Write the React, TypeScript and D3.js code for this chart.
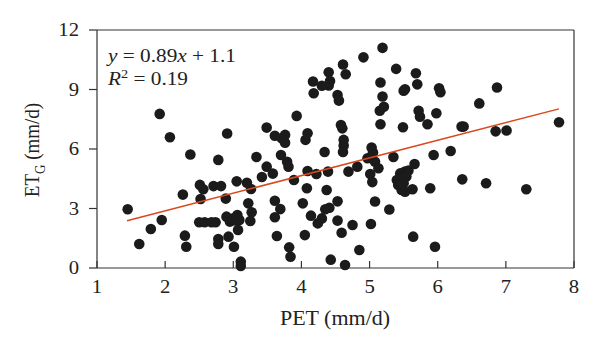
import React from "react";
import * as d3 from "d3";

const petValues: number[] = [
  1.45, 1.62, 1.79, 1.95, 1.92, 2.07, 2.26, 2.29, 2.31, 2.37,
  2.51, 2.56, 2.52, 2.50, 2.58, 2.68, 2.74, 2.71, 2.82, 2.78,
  2.78, 2.78, 2.89, 2.90, 2.95, 2.91, 2.93, 3.01, 3.05, 3.06,
  3.09, 3.07, 3.11, 3.11, 3.20, 3.26, 3.22, 3.27, 3.25, 3.34,
  3.42, 3.49, 3.49, 3.58, 3.61, 3.69, 3.61, 3.64, 3.61, 3.71,
  3.76, 3.76, 3.70, 3.79, 3.81, 3.82, 3.84, 3.89, 3.93, 4.02,
  4.05, 4.06, 4.09, 4.08, 4.09, 4.14, 4.17, 4.18, 4.22, 4.24,
  4.30, 4.30, 4.34, 4.35, 4.37, 4.39, 4.40, 4.42, 4.40, 4.41,
  4.43, 4.53, 4.55, 4.53, 4.53, 4.58, 4.60, 4.61, 4.65, 4.62,
  4.62, 4.61, 4.59, 4.64, 4.69, 4.75, 4.82, 4.85, 4.91, 4.97,
  5.03, 5.05, 5.01, 5.04, 5.02, 5.08, 5.08, 5.13, 5.16, 5.15,
  5.21, 5.19, 5.16, 5.19, 5.29, 5.35, 5.39, 5.45, 5.52, 5.57,
  5.40, 5.47, 5.54, 5.42, 5.47, 5.52, 5.50, 5.63, 5.49, 5.52,
  5.50, 5.66, 5.64, 5.68, 5.70, 5.72, 5.74, 5.85, 5.89, 5.94,
  5.96, 5.98, 6.02, 6.04, 6.19, 6.35, 6.38, 6.36, 6.61, 6.71,
  6.85, 6.87, 7.01, 7.30, 7.78, 3.00, 3.03
];

const etgValues: number[] = [
  2.96, 1.21, 1.97, 2.42, 7.77, 6.59, 3.70, 1.63, 1.07, 5.72,
  4.19, 3.97, 3.48, 2.31, 2.31, 2.31, 2.31, 4.13, 4.13, 5.45,
  1.46, 1.21, 3.50, 2.59, 2.34, 6.78, 1.58, 1.07, 4.37, 2.67,
  2.42, 1.92, 0.32, 0.10, 4.30, 3.98, 3.26, 2.81, 2.37, 5.60,
  4.59, 5.11, 7.08, 4.76, 3.39, 2.97, 2.56, 1.61, 6.67, 6.54,
  6.71, 6.32, 5.70, 5.36, 5.11, 1.04, 0.57, 4.44, 7.67, 3.26,
  1.66, 6.46, 6.79, 4.02, 4.89, 2.64, 9.40, 8.81, 4.74, 2.25,
  9.19, 2.50, 5.85, 2.96, 3.93, 4.86, 9.87, 9.43, 9.20, 3.04,
  0.42, 8.72, 8.44, 3.36, 2.39, 7.21, 7.04, 10.26, 9.77, 6.46,
  6.18, 5.85, 1.78, 0.15, 4.86, 2.17, 5.11, 0.91, 10.62, 5.53,
  6.07, 5.82, 4.74, 4.33, 2.22, 3.35, 5.36, 5.03, 7.25, 7.93,
  8.13, 8.65, 9.35, 11.10, 2.95, 5.60, 10.04, 4.77, 4.86, 4.91,
  4.44, 4.53, 4.61, 4.19, 3.93, 3.85, 4.27, 3.97, 7.10, 9.01,
  8.94, 5.24, 1.58, 9.82, 9.26, 7.93, 7.63, 7.25, 4.02, 5.70,
  1.07, 7.80, 9.06, 8.86, 5.90, 7.13, 7.13, 4.47, 8.30, 4.27,
  6.89, 9.10, 6.93, 3.97, 7.35, 2.50, 2.40
];

const xTicks: number[] = [1, 2, 3, 4, 5, 6, 7, 8];
const yTicks: number[] = [0, 3, 6, 9, 12];
const slope = 0.89;
const intercept = 1.1;
const fitRange: number[] = [1.44, 7.78];

export default function App() {
  const left = 97, right = 574, top = 30, bottom = 268;
  const x = d3.scaleLinear().domain([1, 8]).range([left, right]);
  const y = d3.scaleLinear().domain([0, 12]).range([bottom, top]);
  const points = petValues.map((v, i) => ({ px: v, py: etgValues[i] }));
  const line = d3
    .line<number>()
    .x((d) => x(d))
    .y((d) => y(slope * d + intercept));
  const font = "'Liberation Serif', 'DejaVu Serif', serif";
  const axisColor = "#333";
  const textColor = "#222";
  const sx = 1.15;
  return (
    <svg
      width={600}
      height={351}
      style={{ position: "absolute", left: 0, top: 0, background: "#fff" }}
      fontFamily={font}
    >
      <rect x={0} y={0} width={600} height={351} fill="#fff" />
      <line x1={left} y1={top} x2={right} y2={top} stroke={axisColor} strokeWidth={1.2} />
      <line x1={right} y1={top} x2={right} y2={bottom} stroke={axisColor} strokeWidth={1.2} />
      <line x1={left} y1={top} x2={left} y2={bottom} stroke={axisColor} strokeWidth={1.2} />
      <line x1={left} y1={bottom} x2={right} y2={bottom} stroke={axisColor} strokeWidth={1.2} />
      {xTicks.map((t) => (
        <g key={"x" + t}>
          <line x1={x(t)} x2={x(t)} y1={bottom} y2={bottom - 7} stroke={axisColor} strokeWidth={1.2} />
          <text
            transform={`translate(${x(t)},293) scale(${sx},1)`}
            textAnchor="middle"
            fontSize={18}
            fill={textColor}
          >
            {t}
          </text>
        </g>
      ))}
      {yTicks.map((t) => (
        <g key={"y" + t}>
          <line x1={left - 8} x2={left} y1={y(t)} y2={y(t)} stroke={axisColor} strokeWidth={1.2} />
          <text
            transform={`translate(79,${y(t) + 6}) scale(${sx},1)`}
            textAnchor="end"
            fontSize={18}
            fill={textColor}
          >
            {t}
          </text>
        </g>
      ))}
      {points.map((p, i) => (
        <circle key={i} cx={x(p.px)} cy={y(p.py)} r={5.3} fill="#1b1b1b" />
      ))}
      <path d={line(fitRange) || ""} stroke="#d9481c" strokeWidth={1.5} fill="none" />
      <text transform={`translate(108,62) scale(${sx},1)`} fontSize={18.5} fill={textColor}>
        <tspan fontStyle="italic">y</tspan>
        <tspan> = 0.89</tspan>
        <tspan fontStyle="italic">x</tspan>
        <tspan> + 1.1</tspan>
      </text>
      <text transform={`translate(108,85) scale(${sx},1)`} fontSize={18.5} fill={textColor}>
        <tspan fontStyle="italic">R</tspan>
        <tspan dy={-7} fontSize={12.5}>2</tspan>
        <tspan dy={7}> = 0.19</tspan>
      </text>
      <text
        transform={`translate(335,325) scale(1.1,1)`}
        textAnchor="middle"
        fontSize={20}
        fill={textColor}
      >
        PET (mm/d)
      </text>
      <text
        transform="translate(39,150) rotate(-90) scale(1,1.12)"
        textAnchor="middle"
        fontSize={19}
        fill={textColor}
      >
        ET
        <tspan dy={5} fontSize={13}>G</tspan>
        <tspan dy={-5}> (mm/d)</tspan>
      </text>
    </svg>
  );
}
